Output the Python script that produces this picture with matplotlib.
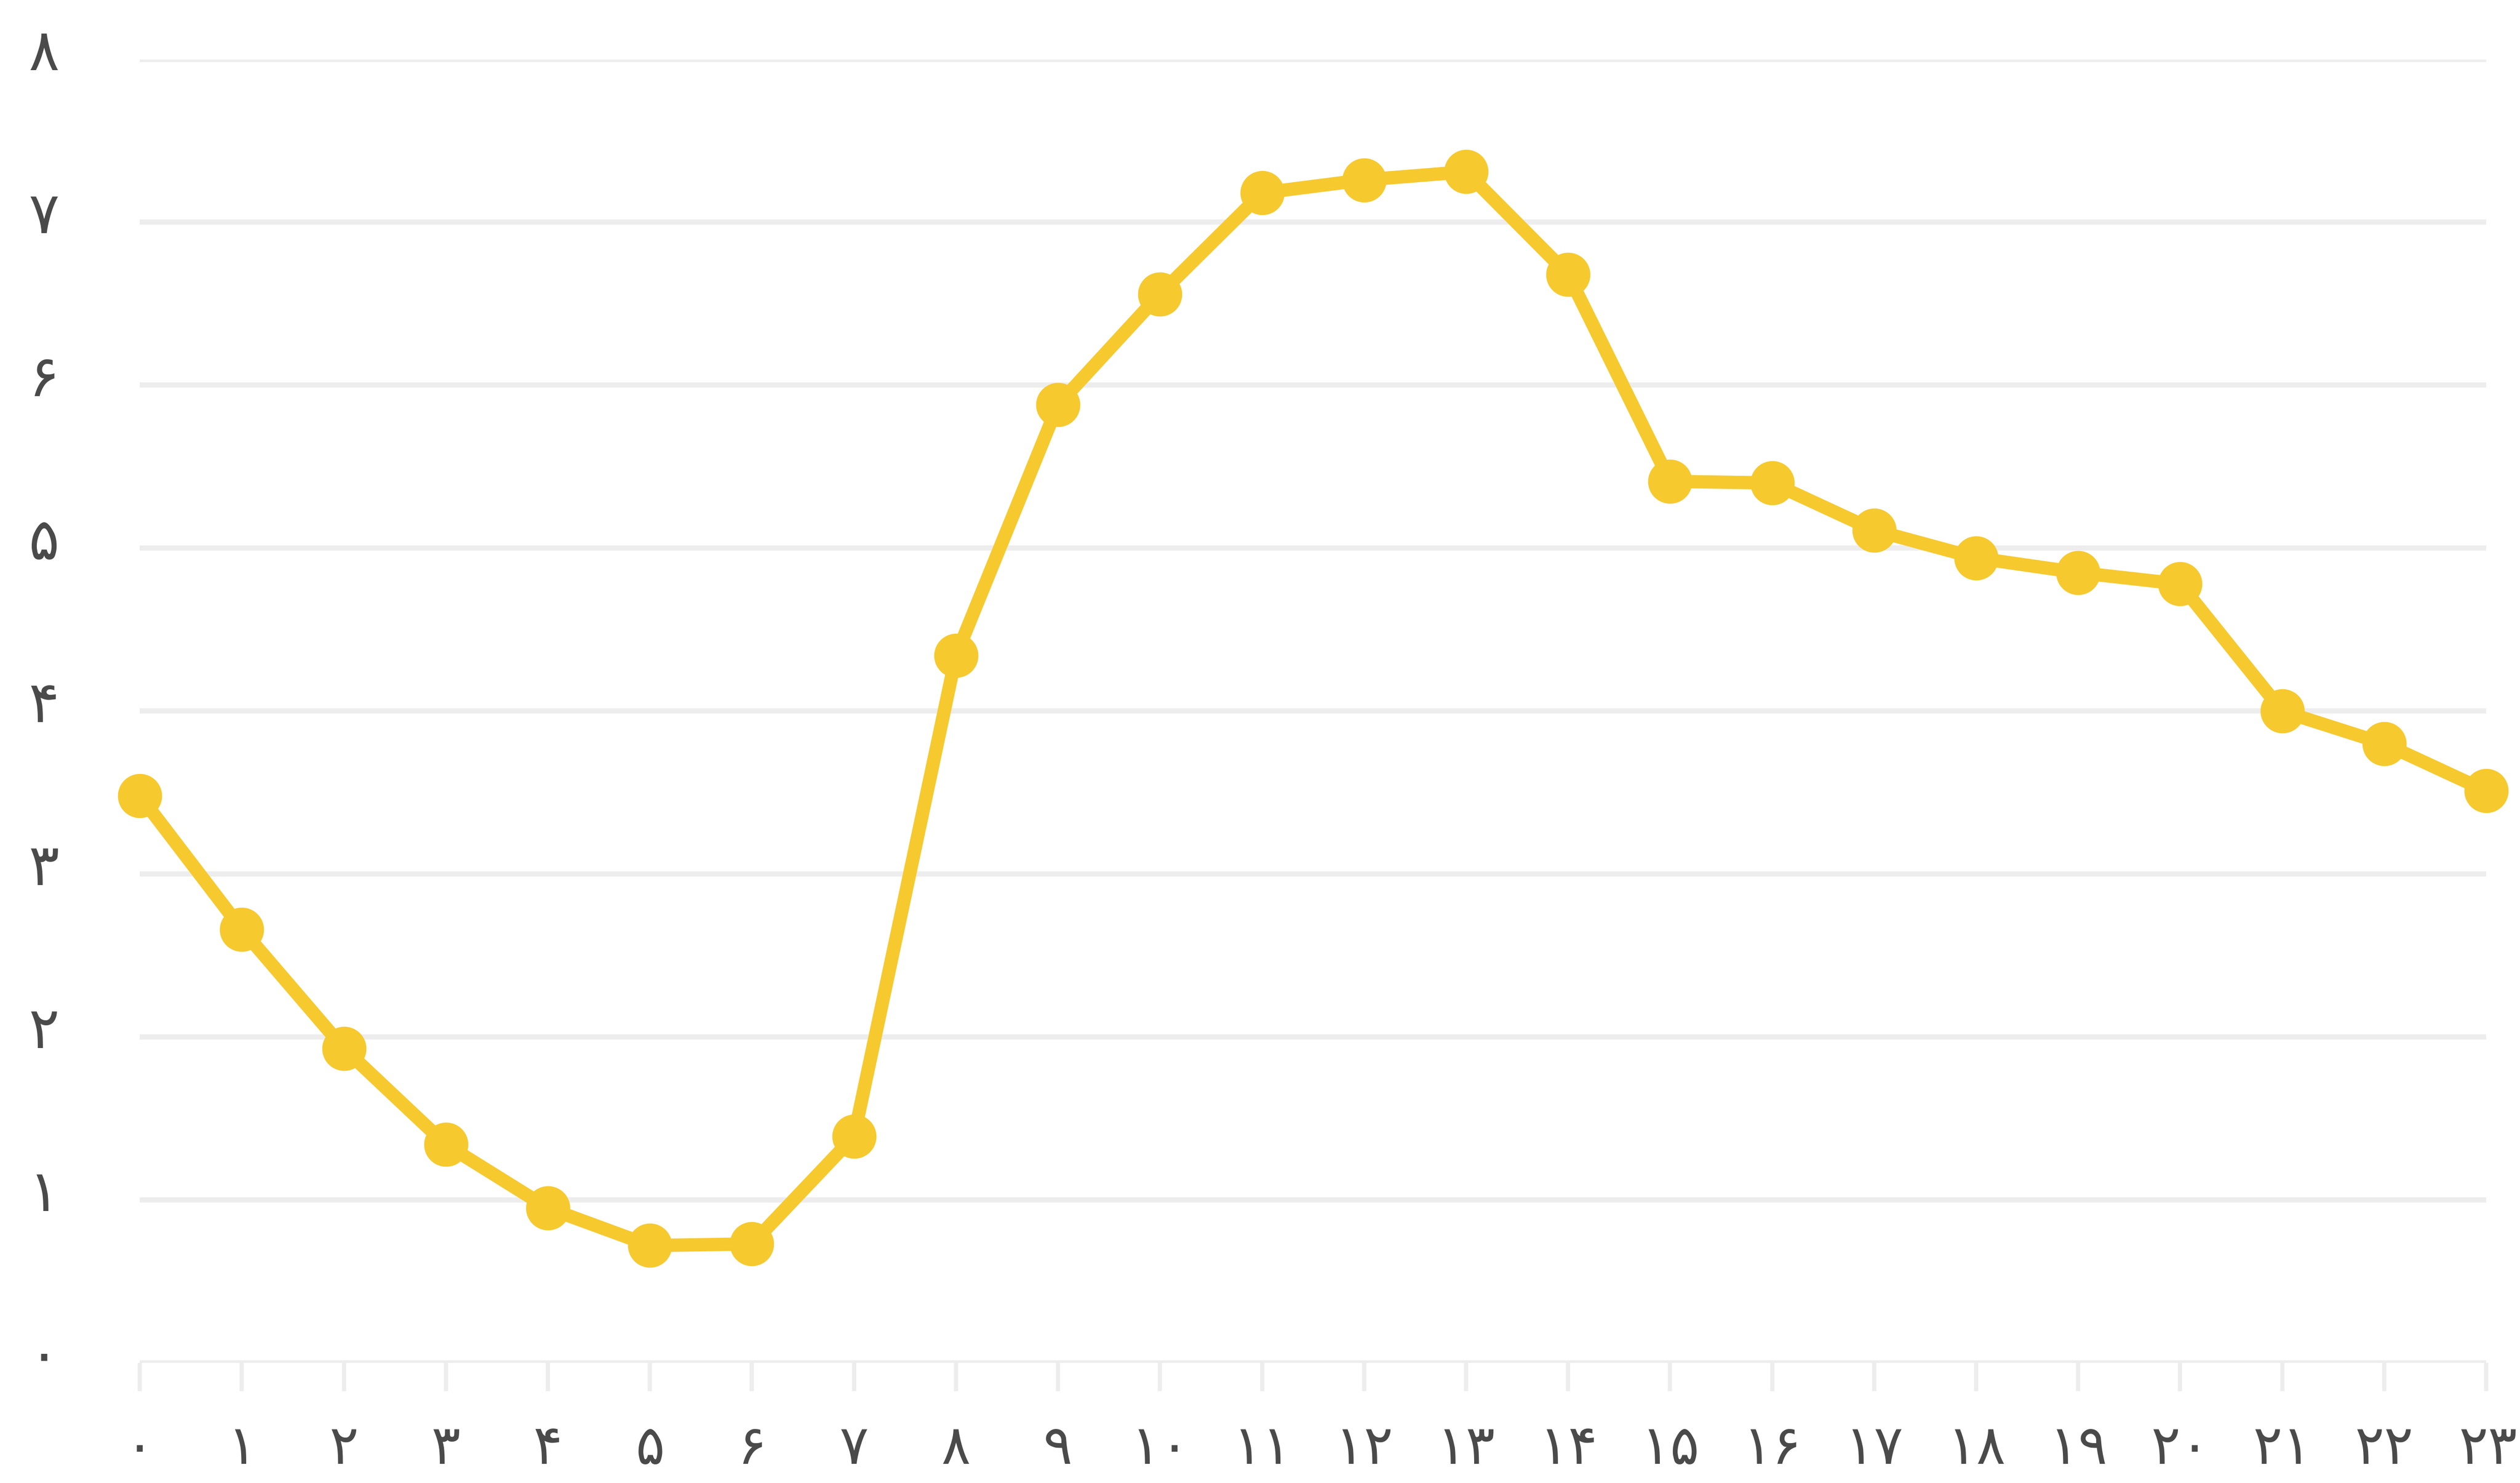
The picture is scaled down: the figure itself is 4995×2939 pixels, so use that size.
import matplotlib
matplotlib.use("Agg")
import matplotlib.pyplot as plt
from matplotlib.transforms import ScaledTranslation

hours = list(range(24))
values = [3.48, 2.66, 1.93, 1.34, 0.95, 0.72, 0.73, 1.39, 4.34, 5.88, 6.56, 7.18,
          7.26, 7.31, 6.68, 5.41, 5.40, 5.11, 4.94, 4.85, 4.78, 4.00, 3.80, 3.51]
persian = "۰۱۲۳۴۵۶۷۸۹"
def fa(n):
    return "".join(persian[int(c)] for c in str(n))
x_labels = [fa(h) for h in hours]
y_ticks = list(range(9))
y_labels = [fa(v) for v in y_ticks]

plt.rcParams['font.family'] = ['DejaVu Sans']
DPI = 100
fig = plt.figure(figsize=(49.95, 29.39), dpi=DPI)
ax = fig.add_axes([0.0555, 0.081, 0.9311, 0.879])

line_color = "#F6C92E"
grid_color = "#EDEDED"
text_color = "#4A4A4A"

ax.plot(hours, values, color=line_color, lw=19, marker="o", ms=62,
        markerfacecolor=line_color, markeredgecolor=line_color, clip_on=False, zorder=3)

ax.set_xlim(0, 23)
ax.set_ylim(0, 8)
ax.set_yticks(y_ticks)
ax.set_yticklabels(y_labels)
ax.set_xticks(hours)
ax.set_xticklabels(x_labels)

for s in ax.spines.values():
    s.set_visible(False)
ax.grid(axis="y", color=grid_color, lw=7.5, zorder=0)
ax.set_axisbelow(True)

ax.tick_params(axis="y", length=0, pad=137, labelsize=82, labelcolor=text_color)
ax.tick_params(axis="x", length=40, width=6, color=grid_color, pad=44,
               labelsize=78, labelcolor=text_color)
for lab in ax.get_yticklabels():
    lab.set_horizontalalignment("center")
    lab.set_transform(lab.get_transform() + ScaledTranslation(0, 22/DPI, fig.dpi_scale_trans))
xl = ax.get_xticklabels()
xl[-1].set_horizontalalignment("right")
xl[-1].set_transform(xl[-1].get_transform() + ScaledTranslation(62/DPI, 0, fig.dpi_scale_trans))

fig.savefig("out.png", dpi=DPI, facecolor="white")
